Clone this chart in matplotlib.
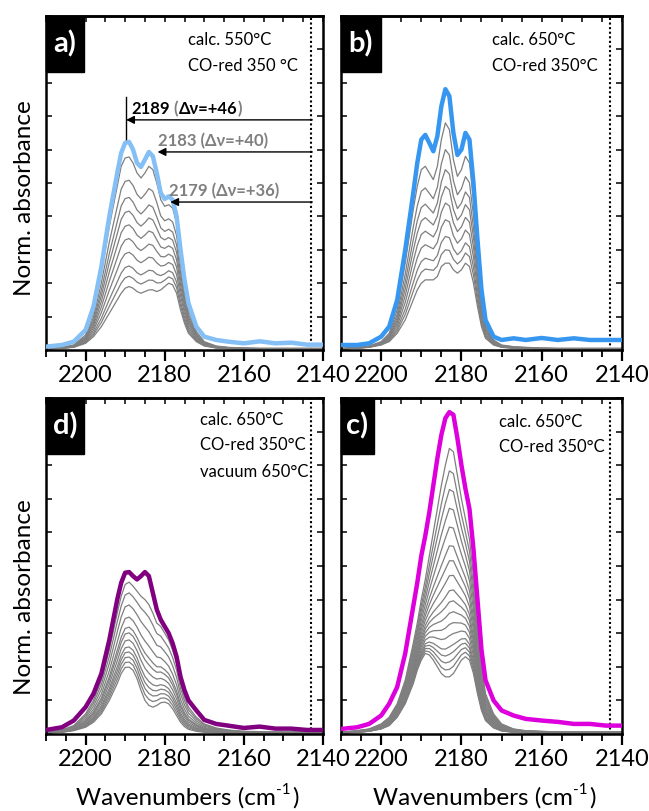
import matplotlib

matplotlib.use("Agg")
import matplotlib.pyplot as plt
import numpy as np
from matplotlib.patches import Rectangle
from matplotlib.ticker import MultipleLocator

plt.rcParams["font.family"] = ["Lato", "DejaVu Sans"]

# ---------------------------------------------------------------------------
# Data (absorbance normalised to the panel height)
# ---------------------------------------------------------------------------
wn = [2210, 2206, 2203, 2200, 2198, 2196, 2194, 2192, 2191, 2190, 2189, 2188,
      2187, 2186, 2185, 2184, 2183, 2182, 2181, 2180, 2179, 2178, 2177, 2176,
      2175, 2174, 2172, 2170, 2167, 2164, 2160, 2156, 2152, 2148, 2144, 2140]

# a) calc. 550 C, CO-red 350 C
bold_a = [0.010, 0.015, 0.025, 0.060, 0.130, 0.250, 0.400, 0.530, 0.590, 0.620,
          0.623, 0.600, 0.560, 0.548, 0.570, 0.593, 0.580, 0.530, 0.470, 0.452,
          0.460, 0.450, 0.400, 0.300, 0.210, 0.140, 0.070, 0.040, 0.030, 0.025,
          0.020, 0.026, 0.020, 0.022, 0.016, 0.016]
grey_hi_a = [0.005, 0.008, 0.015, 0.045, 0.110, 0.230, 0.370, 0.490, 0.550, 0.575,
             0.578, 0.560, 0.530, 0.515, 0.530, 0.550, 0.540, 0.500, 0.450, 0.430,
             0.435, 0.425, 0.380, 0.280, 0.190, 0.120, 0.055, 0.025, 0.012, 0.008,
             0.006, 0.005, 0.005, 0.005, 0.005, 0.005]
grey_lo_a = [0.003, 0.005, 0.008, 0.020, 0.040, 0.070, 0.110, 0.150, 0.170, 0.185,
             0.190, 0.185, 0.175, 0.170, 0.175, 0.180, 0.180, 0.175, 0.180, 0.190,
             0.200, 0.195, 0.170, 0.120, 0.080, 0.050, 0.025, 0.012, 0.006, 0.004,
             0.003, 0.003, 0.003, 0.003, 0.003, 0.003]
levels_a = [0.20, 0.23, 0.26, 0.30, 0.34, 0.38, 0.42, 0.46, 0.51, 0.578]

# b) calc. 650 C, CO-red 350 C
bold_b = [0.015, 0.015, 0.020, 0.040, 0.070, 0.150, 0.300, 0.470, 0.560, 0.630,
          0.644, 0.620, 0.595, 0.640, 0.730, 0.781, 0.760, 0.650, 0.584, 0.600,
          0.650, 0.630, 0.500, 0.330, 0.180, 0.090, 0.040, 0.030, 0.035, 0.030,
          0.036, 0.030, 0.035, 0.030, 0.030, 0.030]
grey_hi_b = [0.005, 0.008, 0.012, 0.025, 0.050, 0.120, 0.260, 0.420, 0.490, 0.540,
             0.550, 0.530, 0.510, 0.550, 0.630, 0.680, 0.660, 0.570, 0.520, 0.540,
             0.580, 0.560, 0.450, 0.300, 0.160, 0.080, 0.030, 0.015, 0.010, 0.008,
             0.006, 0.005, 0.005, 0.005, 0.005, 0.005]
grey_lo_b = [0.003, 0.005, 0.008, 0.015, 0.025, 0.050, 0.090, 0.150, 0.180, 0.200,
             0.210, 0.210, 0.210, 0.220, 0.250, 0.260, 0.260, 0.240, 0.230, 0.240,
             0.260, 0.250, 0.200, 0.130, 0.070, 0.035, 0.015, 0.008, 0.005, 0.004,
             0.003, 0.003, 0.003, 0.003, 0.003, 0.003]
levels_b = [0.26, 0.30, 0.34, 0.39, 0.44, 0.49, 0.54, 0.60, 0.68]

# d) calc. 650 C, CO-red 350 C, vacuum 650 C
bold_d = [0.012, 0.020, 0.040, 0.080, 0.120, 0.180, 0.280, 0.400, 0.450, 0.480,
          0.482, 0.470, 0.460, 0.470, 0.482, 0.470, 0.420, 0.370, 0.340, 0.320,
          0.300, 0.270, 0.230, 0.170, 0.130, 0.100, 0.070, 0.042, 0.030, 0.025,
          0.018, 0.022, 0.016, 0.016, 0.012, 0.012]
grey_hi_d = [0.006, 0.012, 0.025, 0.060, 0.100, 0.160, 0.250, 0.360, 0.410, 0.445,
             0.452, 0.440, 0.425, 0.410, 0.400, 0.385, 0.360, 0.330, 0.320, 0.300,
             0.280, 0.250, 0.210, 0.150, 0.110, 0.080, 0.050, 0.030, 0.018, 0.012,
             0.008, 0.007, 0.006, 0.006, 0.006, 0.006]
grey_lo_d = [0.003, 0.005, 0.010, 0.020, 0.035, 0.060, 0.100, 0.150, 0.180, 0.198,
             0.199, 0.190, 0.165, 0.130, 0.100, 0.085, 0.080, 0.085, 0.093, 0.095,
             0.090, 0.075, 0.055, 0.035, 0.022, 0.014, 0.008, 0.005, 0.004, 0.003,
             0.003, 0.003, 0.003, 0.003, 0.003, 0.003]
levels_d = [0.199, 0.214, 0.229, 0.244, 0.259, 0.280, 0.301, 0.318, 0.348,
            0.384, 0.420, 0.452]

# c) calc. 650 C, CO-red 350 C
bold_c = [0.015, 0.020, 0.030, 0.055, 0.090, 0.140, 0.240, 0.380, 0.450, 0.530,
          0.590, 0.660, 0.740, 0.820, 0.890, 0.940, 0.958, 0.950, 0.880, 0.800,
          0.730, 0.670, 0.550, 0.400, 0.250, 0.160, 0.100, 0.070, 0.055, 0.045,
          0.040, 0.036, 0.030, 0.030, 0.025, 0.025]
grey_hi_c = [0.005, 0.010, 0.015, 0.030, 0.050, 0.090, 0.160, 0.270, 0.330, 0.400,
             0.460, 0.530, 0.600, 0.670, 0.740, 0.800, 0.850, 0.840, 0.770, 0.700,
             0.640, 0.580, 0.470, 0.330, 0.200, 0.120, 0.060, 0.030, 0.015, 0.010,
             0.008, 0.006, 0.006, 0.006, 0.006, 0.006]
grey_lo_c = [0.003, 0.005, 0.008, 0.015, 0.025, 0.050, 0.090, 0.150, 0.190, 0.220,
             0.240, 0.235, 0.220, 0.200, 0.180, 0.170, 0.170, 0.180, 0.200, 0.220,
             0.230, 0.220, 0.180, 0.120, 0.070, 0.040, 0.018, 0.009, 0.005, 0.004,
             0.003, 0.003, 0.003, 0.003, 0.003, 0.003]
levels_c = [0.24, 0.26, 0.28, 0.30, 0.32, 0.35, 0.38, 0.41, 0.44, 0.47, 0.51,
            0.55, 0.59, 0.64, 0.69, 0.74, 0.79, 0.85]

# band assignments marked in panel a
band_pos = [2189, 2183, 2179]
band_shift = [46, 40, 36]
band_y = [0.689, 0.593, 0.443]
gas_co = 2143

# ---------------------------------------------------------------------------
# Style / layout (pixel boxes of the 649 x 811 figure)
# ---------------------------------------------------------------------------
W, H = 649, 811
GREY = "#7f7f7f"
PANELS = [
    dict(box=(46, 16, 323, 350), tag="a)", tagw=38, color="#84bff5",
         bold=bold_a, lo=grey_lo_a, hi=grey_hi_a, levels=levels_a,
         cond=["calc. 550°C", "CO-red 350 °C"], tx=0.513, ty=[0.928, 0.85]),
    dict(box=(341, 16, 622, 350), tag="b)", tagw=40, color="#3797f0",
         bold=bold_b, lo=grey_lo_b, hi=grey_hi_b, levels=levels_b,
         cond=["calc. 650°C", "CO-red 350°C"], tx=0.537, ty=[0.928, 0.85]),
    dict(box=(46, 398, 323, 734), tag="d)", tagw=38, color="#800080",
         bold=bold_d, lo=grey_lo_d, hi=grey_hi_d, levels=levels_d,
         cond=["calc. 650°C", "CO-red 350°C", "vacuum 650°C"], tx=0.556,
         ty=[0.935, 0.86, 0.78]),
    dict(box=(341, 398, 622, 734), tag="c)", tagw=33, color="#dd00dd",
         bold=bold_c, lo=grey_lo_c, hi=grey_hi_c, levels=levels_c,
         cond=["calc. 650°C", "CO-red 350°C"], tx=0.562, ty=[0.929, 0.854]),
]

fig = plt.figure(figsize=(W / 100, H / 100), dpi=100)


def add_panel(l, t, r, b):
    return fig.add_axes([l / W, 1 - b / H, (r - l) / W, (b - t) / H])


def style_axes(ax):
    ax.set_xlim(2210, 2140)
    ax.set_ylim(0, 1)
    for sp in ax.spines.values():
        sp.set_linewidth(1.8)
    ax.xaxis.set_major_locator(MultipleLocator(20))
    ax.xaxis.set_minor_locator(MultipleLocator(5))
    ax.tick_params(axis="x", which="major", direction="out", length=8,
                   width=1.6, labelsize=17, pad=3)
    ax.tick_params(axis="x", which="minor", direction="out", length=5, width=1.3)
    ax.yaxis.set_major_locator(MultipleLocator(0.1))
    ax.tick_params(axis="y", which="both", direction="in", length=4, width=1.1,
                   left=True, right=True, labelleft=False)
    top = ax.secondary_xaxis("top")
    top.xaxis.set_major_locator(MultipleLocator(5))
    top.tick_params(direction="in", length=4, width=1.1, labeltop=False)
    top.spines["top"].set_linewidth(1.8)


x = np.array(wn)
for p in PANELS:
    ax = add_panel(*p["box"])
    style_axes(ax)
    lo, hi = np.array(p["lo"]), np.array(p["hi"])
    lev = np.array(p["levels"])
    for v in lev:
        t = (v - lev[0]) / (lev[-1] - lev[0])
        ax.plot(x, lo + t * (hi - lo), color=GREY, lw=0.9, zorder=2)
    ax.plot(x, p["bold"], color=p["color"], lw=3.2, zorder=3,
            solid_joinstyle="round")
    ax.axvline(gas_co, color="black", ls=(0, (1, 1.2)), lw=1.5, zorder=1)

    # panel tag
    h_px = 56
    l, t_, r, b = p["box"]
    wf, hf = p["tagw"] / (r - l), h_px / (b - t_)
    ax.add_patch(Rectangle((0, 1 - hf), wf, hf, transform=ax.transAxes,
                           color="black", zorder=6, clip_on=False))
    ax.text(wf / 2, 1 - hf / 2, p["tag"], transform=ax.transAxes, color="white",
            fontsize=21, fontweight="bold", ha="center", va="center", zorder=7)

    for txt, yy in zip(p["cond"], p["ty"]):
        ax.text(p["tx"], yy, txt, transform=ax.transAxes, fontsize=12,
                ha="left", va="center", zorder=5)

    if p["tag"] == "a)":
        # vertical marker above the 2189 maximum
        ax.plot([band_pos[0] + 0.75] * 2, [0.63, 0.757], color="black", lw=1.0)
        for i, (pos, sh, yy) in enumerate(zip(band_pos, band_shift, band_y)):
            tip = pos + (0.75 if i == 0 else -1.2 if i == 1 else -0.4)
            ax.annotate("", xy=(tip, yy), xytext=(gas_co - 0.3, yy),
                        arrowprops=dict(arrowstyle="-|>", color="black", lw=1.0,
                                        mutation_scale=12, shrinkA=0, shrinkB=0))
            kw = dict(fontsize=12, fontweight="bold", va="bottom", ha="left")
            tx = pos - 0.6 + (0 if i == 0 else -0.6 if i == 1 else 0.4)
            if i == 0:
                t1 = ax.text(tx, yy + 0.008, f"{pos}", color="black", **kw)
                t2 = ax.annotate(" (", xy=(1, 0), xycoords=t1, color=GREY, **kw)
                t3 = ax.annotate(f"\u0394\u03bd=+{sh}", xy=(1, 0), xycoords=t2,
                                 color="black", **kw)
                ax.annotate(")", xy=(1, 0), xycoords=t3, color=GREY, **kw)
            else:
                ax.text(tx, yy + 0.008, f"{pos} (\u0394\u03bd=+{sh})",
                        color=GREY, **kw)


# axis titles
for yc in (198, 597):
    fig.text(25 / W, 1 - yc / H, "Norm. absorbance", rotation=90, fontsize=17.5,
             ha="center", va="center")
for xc in (176, 473):
    lab = fig.text(xc / W, 1 - 798 / H, "Wavenumbers (cm", fontsize=17.5,
                   ha="center", va="center")
    sup = fig.text(0, 0, "-1", fontsize=11)
    sup.set_visible(False)
    sup = plt.annotate("-1", xy=(1, 0.55), xycoords=lab, fontsize=11,
                       va="bottom", ha="left", annotation_clip=False)
    plt.annotate(")", xy=(1, 0), xycoords=(sup, lab), xytext=(1, 0),
                 textcoords="offset points", fontsize=17.5, va="bottom",
                 ha="left", annotation_clip=False)

fig.savefig("out.png", dpi=100)
